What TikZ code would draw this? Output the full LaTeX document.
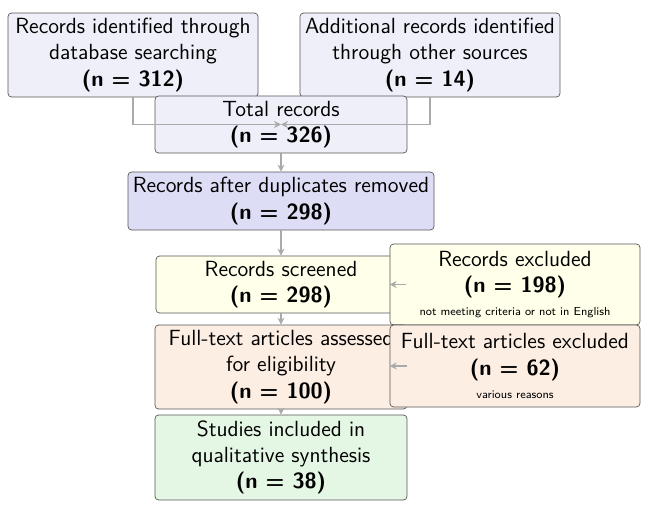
\documentclass[tikz,border=0pt]{standalone}
\usepackage{tikz}
\usetikzlibrary{positioning, arrows.meta, calc}
\definecolor{idblue}{RGB}{239,239,250}
\definecolor{dupblue}{RGB}{221,221,246}
\definecolor{screenyellow}{RGB}{255,255,234}
\definecolor{fullpeach}{RGB}{253,238,228}
\definecolor{inclgreen}{RGB}{228,247,228}
\definecolor{boxline}{RGB}{85,85,85}
\definecolor{arrowgray}{RGB}{170,170,170}
\newcommand{\notesize}{\fontsize{6.6}{8}\selectfont}

\begin{document}
\begin{tikzpicture}[
    x=0.02cm, y=-0.02cm,
    box/.style={draw=boxline, rounded corners=2pt, align=center, inner sep=2pt, font=\sffamily\fontsize{12.5}{15}\selectfont, minimum width=5cm},
    idbox/.style={box, fill=idblue},
    dupbox/.style={box, fill=dupblue},
    screenbox/.style={box, fill=screenyellow},
    fullbox/.style={box, fill=fullpeach},
    inclbox/.style={box, fill=inclgreen},
    arrow/.style={-{Stealth[length=4pt, width=4pt]}, arrowgray, line width=0.7pt}
]
\useasboundingbox (0,0) rectangle (656,520);

% Identification
\node[idbox, minimum height=1.68cm] (db) at (133,55) {Records identified through\\database searching\\\textbf{(n = 312)}};
\node[idbox, minimum width=5.2cm, minimum height=1.68cm] (other) at (430,55) {Additional records identified\\through other sources\\\textbf{(n = 14)}};
\node[idbox, minimum width=5.04cm, minimum height=1.14cm] (total) at (281,124.5) {Total records\\\textbf{(n = 326)}};

\draw[arrow] (db.south) |- (total.center);
\draw[arrow] (other.south) |- (total.center);

% Screening
\node[dupbox, minimum width=6.12cm, minimum height=1.16cm] (dup) at (281,201) {Records after duplicates removed\\\textbf{(n = 298)}};
\node[screenbox, minimum height=1.14cm] (screened) at (281,284.5) {Records screened\\\textbf{(n = 298)}};
\node[screenbox, minimum height=1.62cm] (excl) at (515,284.5) {Records excluded\\\textbf{(n = 198)}\\[-2pt]{\notesize not meeting criteria or not in English}};

\draw[arrow] (total.south) -- (dup.north);
\draw[arrow] (dup.south) -- (screened.north);
\draw[arrow] (screened.east) -- (excl.west);

% Eligibility
\node[fullbox, minimum width=5.04cm, minimum height=1.68cm] (full) at (281,367) {Full-text articles assessed\\for eligibility\\\textbf{(n = 100)}};
\node[fullbox, minimum height=1.64cm] (fullexcl) at (515,366) {Full-text articles excluded\\\textbf{(n = 62)}\\[-2pt]{\notesize various reasons}};

\draw[arrow] (screened.south) -- (full.north);
\draw[arrow] (full.east |- fullexcl.west) -- (fullexcl.west);

% Included
\node[inclbox, minimum width=5.04cm, minimum height=1.7cm] (incl) at (281,457.5) {Studies included in\\qualitative synthesis\\\textbf{(n = 38)}};

\draw[arrow] (full.south) -- (incl.north);

\end{tikzpicture}
\end{document}
